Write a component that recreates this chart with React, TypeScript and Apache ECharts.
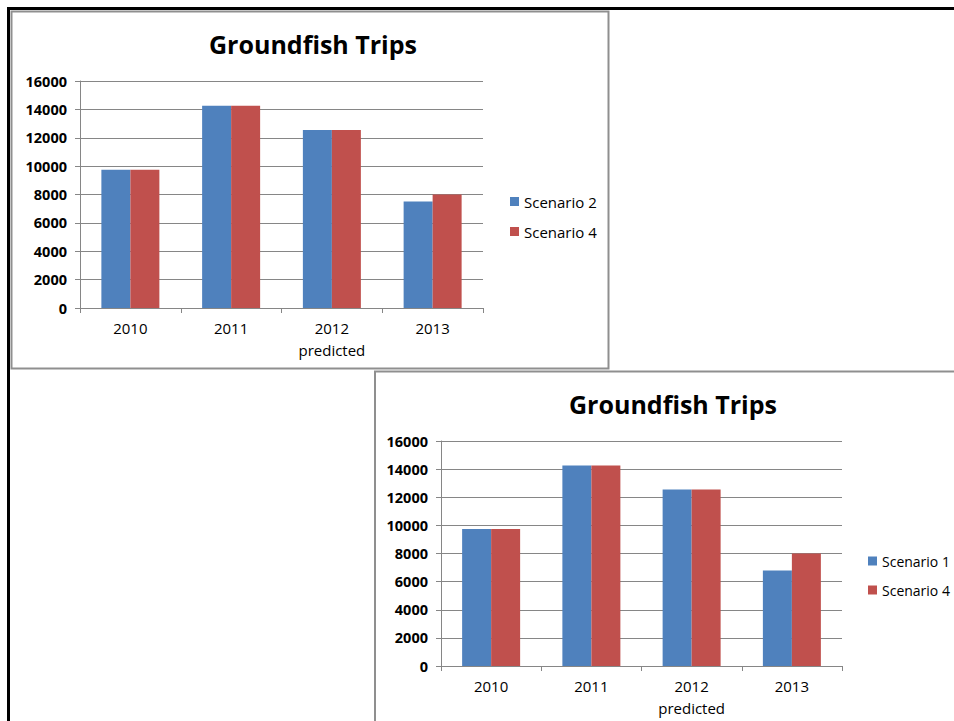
import React, { useEffect, useRef } from "react";
import * as echarts from "echarts";

const categories = ["2010", "2011", "2012\npredicted", "2013"];
const yTicks = { min: 0, max: 16000, interval: 2000 };
const chart1Scenario2 = [9750, 14250, 12550, 7500];
const chart1Scenario4 = [9750, 14250, 12550, 8000];
const chart2Scenario1 = [9750, 14250, 12550, 6800];
const chart2Scenario4 = [9750, 14250, 12550, 8000];
const titleText = "Groundfish Trips";
const legend1 = ["Scenario 2", "Scenario 4"];
const legend2 = ["Scenario 1", "Scenario 4"];

const BLUE = "#4F81BD";
const RED = "#C0504D";
const FONT = "'Open Sans', 'Noto Sans', sans-serif";

export default function App() {
  const ref = useRef<HTMLDivElement>(null);
  useEffect(() => {
    if (!ref.current) return;
    const chart = echarts.init(ref.current, null, { renderer: "svg" });
    const yAxisBase = (gridIndex: number) => ({
      type: "value",
      gridIndex,
      min: yTicks.min,
      max: yTicks.max,
      interval: yTicks.interval,
      axisLine: { show: true, lineStyle: { color: "#868686", width: 1 } },
      axisTick: { show: true, length: 5, lineStyle: { color: "#868686" } },
      axisLabel: {
        color: "#000",
        fontFamily: FONT,
        fontWeight: "bold",
        fontSize: 14.5,
        margin: 13,
        formatter: (v: number) => String(v),
      },
      splitLine: { show: true, lineStyle: { color: "#868686", width: 1 } },
    });
    const xAxisBase = (gridIndex: number) => ({
      type: "category",
      gridIndex,
      data: categories,
      axisLine: { show: true, lineStyle: { color: "#868686", width: 1 } },
      axisTick: { show: true, length: 5, alignWithLabel: false, lineStyle: { color: "#868686" } },
      axisLabel: { color: "#000", fontFamily: FONT, fontSize: 15, margin: 9, lineHeight: 22 },
    });
    const barBase = {
      type: "bar",
      barWidth: 29,
      barGap: "0%",
    };
    const legendBase = {
      orient: "vertical",
      icon: "rect",
      itemWidth: 9,
      itemHeight: 9,
      itemGap: 15,
    };
    chart.setOption({
      animation: false,
      backgroundColor: "#fff",
      title: [
        {
          text: titleText,
          left: 308,
          top: 26,
          textAlign: "center",
          textStyle: { fontFamily: FONT, fontWeight: "bold", fontSize: 25, color: "#000" },
        },
        {
          text: titleText,
          left: 668,
          top: 386,
          textAlign: "center",
          textStyle: { fontFamily: FONT, fontWeight: "bold", fontSize: 25, color: "#000" },
        },
      ],
      legend: [
        { ...legendBase, data: legend1, left: 505, top: 189, textStyle: { color: "#000", fontFamily: FONT, fontSize: 15 } },
        { ...legendBase, data: legend2, left: 863, top: 549, textStyle: { color: "#000", fontFamily: FONT, fontSize: 14 } },
      ],
      grid: [
        { left: 80, top: 81, width: 403, height: 227, containLabel: false },
        { left: 441, top: 441, width: 401, height: 225, containLabel: false },
      ],
      xAxis: [xAxisBase(0), xAxisBase(1)],
      yAxis: [yAxisBase(0), yAxisBase(1)],
      series: [
        { ...barBase, name: legend1[0], xAxisIndex: 0, yAxisIndex: 0, data: chart1Scenario2, itemStyle: { color: BLUE } },
        { ...barBase, name: legend1[1], xAxisIndex: 0, yAxisIndex: 0, data: chart1Scenario4, itemStyle: { color: RED } },
        { ...barBase, name: legend2[0], xAxisIndex: 1, yAxisIndex: 1, data: chart2Scenario1, itemStyle: { color: BLUE } },
        { ...barBase, name: legend2[1], xAxisIndex: 1, yAxisIndex: 1, data: chart2Scenario4, itemStyle: { color: RED } },
      ],
      graphic: [
        { type: "rect", shape: { x: 7, y: 7, width: 947, height: 3 }, style: { fill: "#000" }, silent: true },
        { type: "rect", shape: { x: 7, y: 7, width: 3, height: 714 }, style: { fill: "#000" }, silent: true },
        { type: "rect", shape: { x: 11.5, y: 11.5, width: 597, height: 357 }, style: { fill: "none", stroke: "#8f8f8f", lineWidth: 2 }, silent: true },
        { type: "rect", shape: { x: 375, y: 371.5, width: 600, height: 400 }, style: { fill: "none", stroke: "#8f8f8f", lineWidth: 2 }, silent: true },
      ],
    });
    return () => chart.dispose();
  }, []);
  return (
    <div
      ref={ref}
      style={{ position: "fixed", left: 0, top: 0, width: 954, height: 721, background: "#fff" }}
    />
  );
}
